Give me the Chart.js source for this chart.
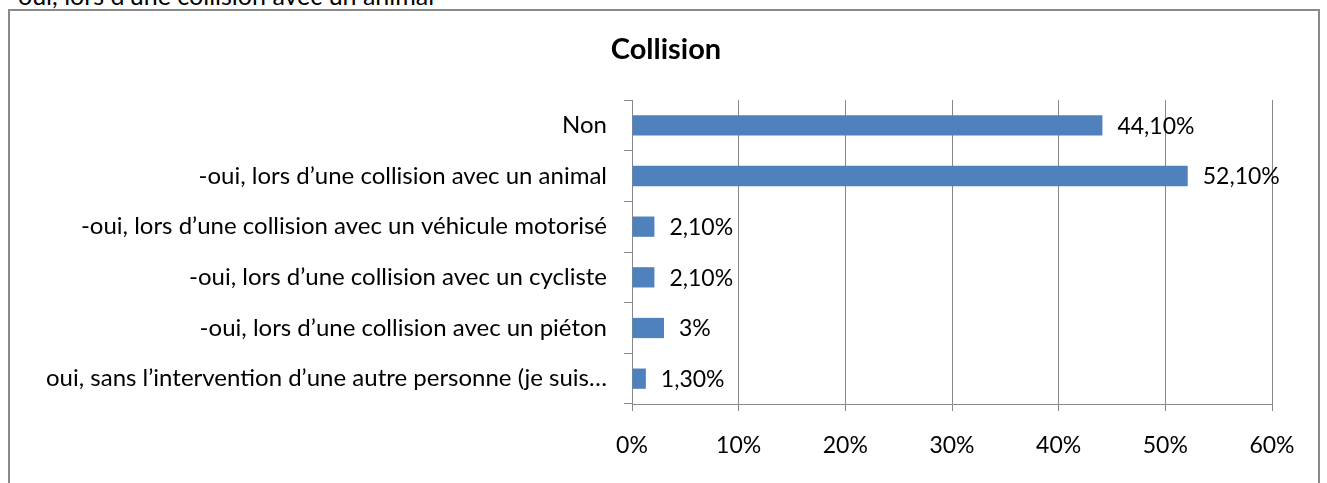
<!DOCTYPE html>
<html>
<head>
<meta charset="utf-8">
<script src="https://cdn.jsdelivr.net/npm/chart.js@4.4.1/dist/chart.umd.min.js"></script>
<style>
  html, body { margin:0; padding:0; background:#fff; width:1327px; height:483px; overflow:hidden; }
  #frame { position:absolute; left:8px; top:9px; width:1312px; height:500px; border:2px solid #8a8a8a; box-sizing:border-box; }
  #cut { position:absolute; left:18px; top:-19px; font-family:Lato, sans-serif; font-size:25px; line-height:28px; color:#000; white-space:nowrap; }
  #wrap { position:absolute; left:0; top:0; width:1327px; height:483px; }
</style>
</head>
<body>
<div id="cut">oui, lors d’une collision avec un animal</div>
<div id="frame"></div>
<div id="wrap"><canvas id="c" width="1327" height="483"></canvas></div>
<script>
const chartTitle = "Collision";
const categories = [
  "Non",
  "-oui, lors d’une collision avec un animal",
  "-oui, lors d’une collision avec un véhicule motorisé",
  "-oui, lors d’une collision avec un cycliste",
  "-oui, lors d’une collision avec un piéton",
  "oui, sans l’intervention d’une autre personne (je suis…"
];
const values = [44.1, 52.1, 2.1, 2.1, 3, 1.3];
const valueLabels = ["44,10%", "52,10%", "2,10%", "2,10%", "3%", "1,30%"];
const xTicks = [0, 10, 20, 30, 40, 50, 60];

const FONT = "Lato, 'Open Sans', sans-serif";

const dataLabels = {
  id: 'dataLabels',
  afterDatasetsDraw(chart) {
    const ctx = chart.ctx;
    const meta = chart.getDatasetMeta(0);
    ctx.save();
    ctx.font = "23px " + FONT;
    ctx.fillStyle = "#000";
    ctx.textAlign = "left";
    ctx.textBaseline = "middle";
    meta.data.forEach((bar, i) => {
      ctx.fillText(valueLabels[i], bar.x + 15, bar.y + 1);
    });
    ctx.restore();
  }
};

const titlePlugin = {
  id: 'centeredTitle',
  afterDraw(chart) {
    const ctx = chart.ctx;
    ctx.save();
    ctx.font = "bold 29px " + FONT;
    ctx.fillStyle = "#000";
    ctx.textAlign = "center";
    ctx.textBaseline = "middle";
    ctx.fillText(chartTitle, 666, 50);
    ctx.restore();
  }
};

new Chart(document.getElementById('c'), {
  type: 'bar',
  data: {
    labels: categories,
    datasets: [{
      data: values,
      backgroundColor: '#4F81BD',
      borderWidth: 0,
      barPercentage: 0.4,
      categoryPercentage: 1.0
    }]
  },
  options: {
    indexAxis: 'y',
    responsive: false,
    animation: false,
    layout: { padding: { left: 0, right: 55, top: 100, bottom: 0 } },
    plugins: {
      legend: { display: false },
      tooltip: { enabled: false },
      title: { display: false }
    },
    scales: {
      x: {
        min: 0, max: 60,
        afterBuildTicks(scale) { scale.ticks = xTicks.map(v => ({ value: v })); },
        afterFit(scale) { scale.height = 79; },
        ticks: {
          color: '#000',
          font: { family: FONT, size: 23 },
          padding: 21,
          callback: v => v + '%'
        },
        grid: { color: '#888', lineWidth: 1, tickLength: 7, drawTicks: true },
        border: { display: true, color: '#888', width: 1 }
      },
      y: {
        afterFit(scale) { scale.width = 632; },
        ticks: {
          color: '#000',
          font: { family: FONT, size: 24 },
          padding: 17,
          autoSkip: false
        },
        grid: { offset: true, drawOnChartArea: false, drawTicks: true, tickLength: 8, color: '#888' },
        border: { display: true, color: '#888', width: 1 }
      }
    }
  },
  plugins: [dataLabels, titlePlugin]
});
</script>
</body>
</html>
